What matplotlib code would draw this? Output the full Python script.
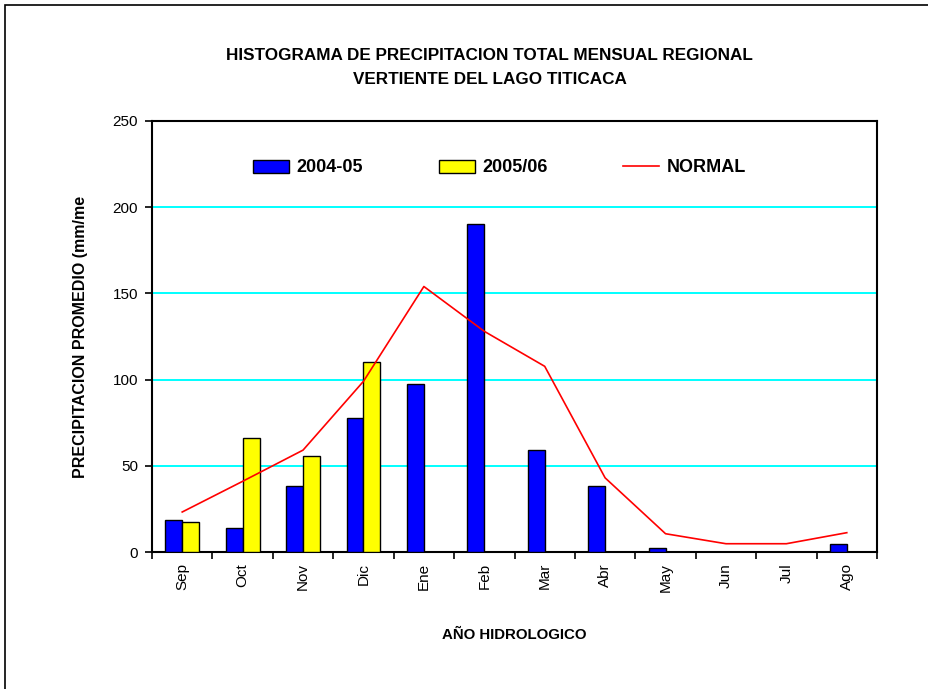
import matplotlib
matplotlib.use("Agg")
import matplotlib.pyplot as plt
import numpy as np

plt.rcParams['font.family'] = ['Liberation Sans', 'DejaVu Sans']

meses = ["Sep", "Oct", "Nov", "Dic", "Ene", "Feb", "Mar", "Abr", "May", "Jun", "Jul", "Ago"]
p2004_05 = [18.5, 13.9, 38.2, 77.6, 97.3, 190.0, 59.1, 38.2, 2.3, 0, 0, 4.6]
p2005_06 = [17.4, 66.0, 55.6, 110.0, 0, 0, 0, 0, 0, 0, 0, 0]
normal = [23.2, 41.0, 59.1, 99.0, 154.0, 128.0, 107.7, 43.0, 10.6, 4.8, 4.8, 11.2]

fig = plt.figure(figsize=(9.29, 6.89), dpi=100)
# marco exterior del grafico
fig.patches.append(plt.Rectangle((5 / 929, -0.1), 1.2, 1.1 - 5 / 689, transform=fig.transFigure,
                                 fill=False, edgecolor="black", linewidth=1.2))
ax = fig.add_axes([152 / 929, 1 - 552 / 689, 725 / 929, 431 / 689])

x = np.arange(len(meses))
w = 0.28
b1 = ax.bar(x - w / 2, p2004_05, w, color="#0000FF", edgecolor="black", linewidth=1.0, label="2004-05", zorder=3)
b2 = ax.bar(x + w / 2, p2005_06, w, color="#FFFF00", edgecolor="black", linewidth=1.0, label="2005/06", zorder=3)
ln, = ax.plot(x, normal, color="#FF0000", linewidth=1.2, label="NORMAL", zorder=4)

ax.set_xlim(-0.5, len(meses) - 0.5)
ax.set_ylim(0, 250)
ax.set_yticks(range(0, 251, 50))
for yy in range(50, 250, 50):
    ax.axhline(yy, color="#00FFFF", linewidth=1.4, zorder=1)

ax.set_xticks(np.arange(-0.5, len(meses), 1))
ax.set_xticklabels([])
ax.set_xticks(x, minor=True)
ax.set_xticklabels(meses, minor=True, rotation=90, fontsize=11)
ax.tick_params(axis="x", which="minor", length=0, pad=8)
ax.tick_params(axis="x", which="major", length=5, width=1.2, direction="out")
ax.tick_params(axis="y", length=5, width=1.2, direction="out", labelsize=11, pad=5)
for s in ax.spines.values():
    s.set_linewidth(1.5)

ax.set_ylabel("PRECIPITACION PROMEDIO (mm/me", fontsize=11.5, fontweight="bold", labelpad=18)
ax.set_xlabel("AÑO HIDROLOGICO", fontsize=10.8, fontweight="bold", labelpad=26)

fig.text(0.527, 1 - 55 / 689, "HISTOGRAMA DE PRECIPITACION TOTAL MENSUAL REGIONAL",
         ha="center", va="center", fontsize=12.3, fontweight="bold")
fig.text(0.527, 1 - 80 / 689, "VERTIENTE DEL LAGO TITICACA",
         ha="center", va="center", fontsize=12.3, fontweight="bold")

leg = ax.legend([b1, b2, ln], ["2004-05", "2005/06", "NORMAL"], loc="center",
                bbox_to_anchor=(0.479, 0.891), ncol=3, frameon=False,
                prop={"weight": "bold", "size": 13}, handlelength=2.0, handleheight=0.72,
                columnspacing=4.2, handletextpad=0.4)

fig.savefig("out.png", dpi=100)
